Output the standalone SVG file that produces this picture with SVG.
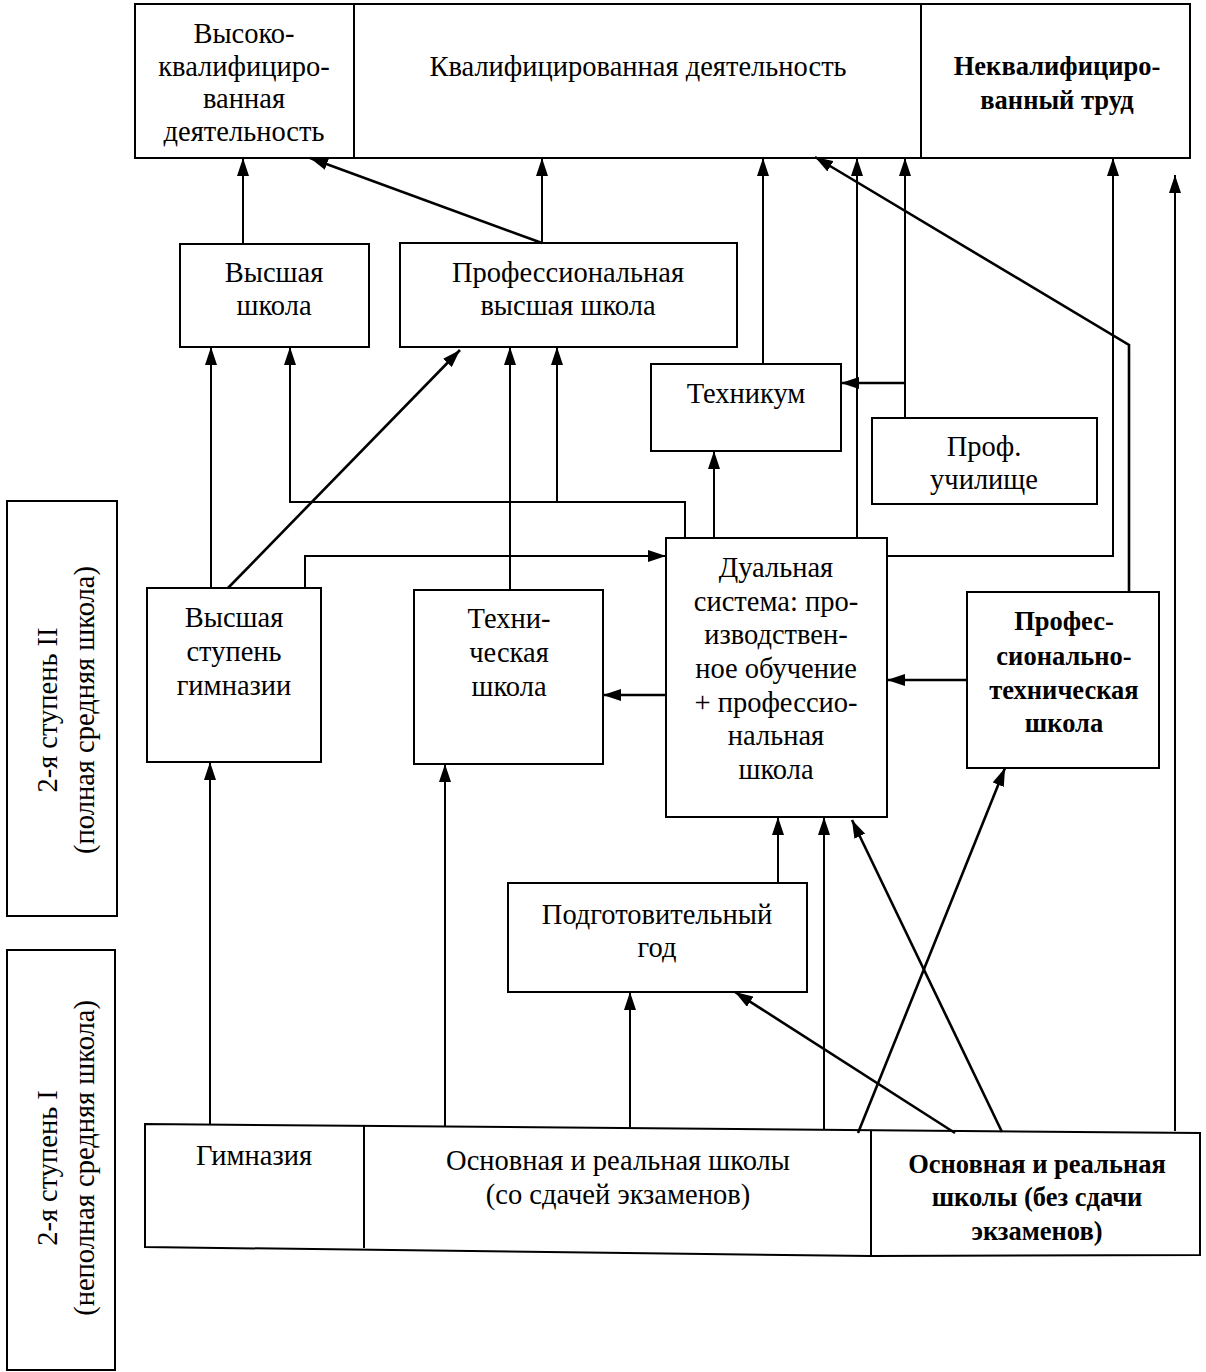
<svg xmlns="http://www.w3.org/2000/svg" width="1206" height="1372" viewBox="0 0 1206 1372">
<style>
.b{fill:#fff;stroke:#000;stroke-width:2}
.t{font-family:"Liberation Serif","Times New Roman",serif;font-size:28.5px;text-anchor:middle;fill:#000}
.bd{font-weight:bold;font-size:26.5px}
.c{fill:none;stroke:#000;stroke-width:2}
.d{fill:none;stroke:#000;stroke-width:2.6}
</style>
<defs>
<marker id="ah" viewBox="0 0 18 12" refX="18" refY="6" markerWidth="18" markerHeight="12" markerUnits="userSpaceOnUse" orient="auto"><path d="M0,0 L18,6 L0,12 z" fill="#000"/></marker>
</defs>
<rect width="1206" height="1372" fill="#fff"/>

<g id="top-row">
<rect class="b" x="135" y="4" width="1055" height="154"/>
<line class="c" x1="354" y1="4" x2="354" y2="158"/>
<line class="c" x1="921" y1="4" x2="921" y2="158"/>
</g>
<g id="n-highqual">
<text class="t" x="244" y="43">Высоко-</text>
<text class="t" x="244" y="76">квалифициро-</text>
<text class="t" x="244" y="108">ванная</text>
<text class="t" x="244" y="141">деятельность</text>
</g>
<g id="n-qual">
<text class="t" x="638" y="76">Квалифицированная деятельность</text>
</g>
<g id="n-unqual">
<text class="t bd" x="1057" y="75">Неквалифициро-</text>
<text class="t bd" x="1057" y="109">ванный труд</text>
</g>

<g id="n-hs">
<rect class="b" x="180" y="244" width="189" height="103"/>
<text class="t" x="274" y="282">Высшая</text>
<text class="t" x="274" y="315">школа</text>
</g>
<g id="n-phs">
<rect class="b" x="400" y="243" width="337" height="104"/>
<text class="t" x="568" y="282">Профессиональная</text>
<text class="t" x="568" y="315">высшая школа</text>
</g>
<g id="n-tech">
<rect class="b" x="651" y="364" width="190" height="87"/>
<text class="t" x="746" y="403">Техникум</text>
</g>
<g id="n-pu">
<rect class="b" x="872" y="418" width="225" height="86"/>
<text class="t" x="984" y="456">Проф.</text>
<text class="t" x="984" y="489">училище</text>
</g>
<g id="n-gymup">
<rect class="b" x="147" y="588" width="174" height="174"/>
<text class="t" x="234" y="627">Высшая</text>
<text class="t" x="234" y="661">ступень</text>
<text class="t" x="234" y="695">гимназии</text>
</g>
<g id="n-techschool">
<rect class="b" x="414" y="590" width="189" height="174"/>
<text class="t" x="509" y="628">Техни-</text>
<text class="t" x="509" y="662">ческая</text>
<text class="t" x="509" y="696">школа</text>
</g>
<g id="n-dual">
<rect class="b" x="666" y="538" width="221" height="279"/>
<text class="t" x="776" y="577">Дуальная</text>
<text class="t" x="776" y="611">система: про-</text>
<text class="t" x="776" y="644">изводствен-</text>
<text class="t" x="776" y="678">ное обучение</text>
<text class="t" x="776" y="712">+ профессио-</text>
<text class="t" x="776" y="745">нальная</text>
<text class="t" x="776" y="779">школа</text>
</g>
<g id="n-pts">
<rect class="b" x="967" y="592" width="192" height="176"/>
<text class="t bd" x="1064" y="630">Профес-</text>
<text class="t bd" x="1064" y="665">сионально-</text>
<text class="t bd" x="1064" y="699">техническая</text>
<text class="t bd" x="1064" y="732">школа</text>
</g>
<g id="n-prep">
<rect class="b" x="508" y="883" width="299" height="109"/>
<text class="t" x="657" y="924">Подготовительный</text>
<text class="t" x="657" y="957">год</text>
</g>

<g id="bottom-row">
<polygon class="b" points="145,1124 1200,1133 1200,1255 871,1256 145,1247"/>
<line class="c" x1="364" y1="1126" x2="364" y2="1248"/>
<line class="c" x1="871" y1="1131" x2="871" y2="1256"/>
</g>
<g id="n-gym">
<text class="t" x="254" y="1165">Гимназия</text>
</g>
<g id="n-basic-exam">
<text class="t" x="618" y="1170">Основная и реальная школы</text>
<text class="t" x="618" y="1204">(со сдачей экзаменов)</text>
</g>
<g id="n-basic-noexam">
<text class="t bd" x="1037" y="1173">Основная и реальная</text>
<text class="t bd" x="1037" y="1206">школы (без сдачи</text>
<text class="t bd" x="1037" y="1240">экзаменов)</text>
</g>

<g id="side-II">
<rect class="b" x="7" y="501" width="110" height="415"/>
<text class="t" transform="translate(57,710) rotate(-90)">2-я ступень II</text>
<text class="t" transform="translate(94,710) rotate(-90)">(полная средняя школа)</text>
</g>
<g id="side-I">
<rect class="b" x="7" y="950" width="108" height="420"/>
<text class="t" transform="translate(57,1168) rotate(-90)">2-я ступень I</text>
<text class="t" transform="translate(94,1158) rotate(-90)">(неполная средняя школа)</text>
</g>

<g id="connectors">
<path class="c" d="M243,244 V158" marker-end="url(#ah)"/>
<path class="c" d="M542,243 V158" marker-end="url(#ah)"/>
<path class="d" d="M542,243 L310,158" marker-end="url(#ah)"/>
<path class="c" d="M763,364 V158" marker-end="url(#ah)"/>
<path class="c" d="M857,538 V158" marker-end="url(#ah)"/>
<path class="c" d="M905,418 V158" marker-end="url(#ah)"/>
<path class="d" d="M905,383 H841" marker-end="url(#ah)"/>
<path class="c" d="M887,556 H1113 V158" marker-end="url(#ah)"/>
<path class="d" d="M1129,592 V345 L815,157" marker-end="url(#ah)"/>
<path class="c" d="M1175,1131 V175" marker-end="url(#ah)"/>
<path class="c" d="M211,588 V347" marker-end="url(#ah)"/>
<path class="c" d="M685,538 V502 H290 V347" marker-end="url(#ah)"/>
<path class="c" d="M557,502 V347" marker-end="url(#ah)"/>
<path class="d" d="M228,588 L460,350" marker-end="url(#ah)"/>
<path class="c" d="M510,590 V347" marker-end="url(#ah)"/>
<path class="c" d="M305,588 V556 H666" marker-end="url(#ah)"/>
<path class="c" d="M714,538 V451" marker-end="url(#ah)"/>
<path class="d" d="M666,695 H603" marker-end="url(#ah)"/>
<path class="d" d="M967,680 H887" marker-end="url(#ah)"/>
<path class="c" d="M210,1124 V762" marker-end="url(#ah)"/>
<path class="c" d="M445,1126 V764" marker-end="url(#ah)"/>
<path class="c" d="M778,883 V817" marker-end="url(#ah)"/>
<path class="c" d="M824,1130 V817" marker-end="url(#ah)"/>
<path class="d" d="M1002,1132 L852,820" marker-end="url(#ah)"/>
<path class="d" d="M858,1133 L1005,768" marker-end="url(#ah)"/>
<path class="c" d="M630,1127 V992" marker-end="url(#ah)"/>
<path class="d" d="M955,1133 L735,992" marker-end="url(#ah)"/>
</g>
</svg>
